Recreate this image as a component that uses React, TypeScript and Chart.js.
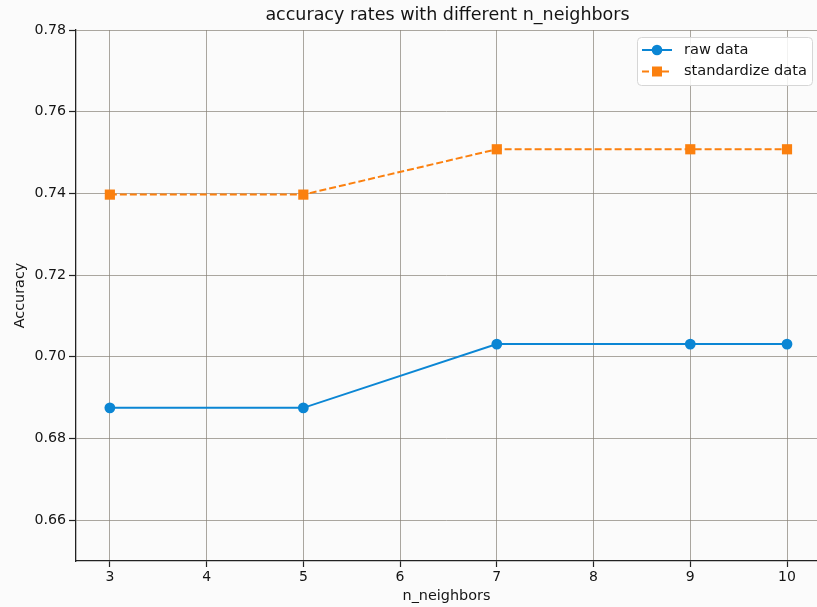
import React, { useEffect, useRef } from 'react';
import { Chart, registerables } from 'chart.js';

Chart.register(...registerables);

const nNeighbors = [3, 5, 7, 9, 10];
const rawData = [0.6875, 0.6875, 0.7031, 0.7031, 0.7031];
const standardizeData = [0.7397, 0.7397, 0.7508, 0.7508, 0.7508];
const xTickValues = [3, 4, 5, 6, 7, 8, 9, 10];
const yTickValues = [0.66, 0.68, 0.7, 0.72, 0.74, 0.76, 0.78];
const seriesLabels = ['raw data', 'standardize data'];
const titleText = 'accuracy rates with different n_neighbors';
const xLabel = 'n_neighbors';
const yLabel = 'Accuracy';

const BLUE = '#0b86d4';
const ORANGE = '#fb800f';
const FONT = "'DejaVu Sans', sans-serif";
const TEXT = '#141414';
const GRID = 'rgba(135,130,120,0.7)';

const decoPlugin = {
  id: 'deco',
  beforeDraw(chart: any) {
    const ctx = chart.ctx;
    ctx.save();
    ctx.fillStyle = '#fbfbfb';
    ctx.fillRect(0, 0, chart.width, chart.height);
    ctx.restore();
  },
  afterDraw(chart: any) {
    const ctx = chart.ctx;
    const ca = chart.chartArea;
    ctx.save();
    // title
    ctx.fillStyle = TEXT;
    ctx.font = `17.5px ${FONT}`;
    ctx.textAlign = 'center';
    ctx.textBaseline = 'middle';
    ctx.fillText(titleText, (ca.left + ca.right) / 2 + 1, 15);

    // legend
    const bx = 637.5, by = 37.5, bw = 175, bh = 48, r = 4;
    ctx.beginPath();
    ctx.moveTo(bx + r, by);
    ctx.lineTo(bx + bw - r, by);
    ctx.arcTo(bx + bw, by, bx + bw, by + r, r);
    ctx.lineTo(bx + bw, by + bh - r);
    ctx.arcTo(bx + bw, by + bh, bx + bw - r, by + bh, r);
    ctx.lineTo(bx + r, by + bh);
    ctx.arcTo(bx, by + bh, bx, by + bh - r, r);
    ctx.lineTo(bx, by + r);
    ctx.arcTo(bx, by, bx + r, by, r);
    ctx.closePath();
    ctx.fillStyle = 'rgba(255,255,255,0.85)';
    ctx.fill();
    ctx.strokeStyle = '#d6d6d6';
    ctx.lineWidth = 1;
    ctx.stroke();

    const rows = [50, 71.5];
    chart.data.datasets.forEach((ds: any, i: number) => {
      const y = rows[i];
      ctx.strokeStyle = ds.borderColor;
      ctx.lineWidth = 2;
      ctx.setLineDash(ds.borderDash || []);
      ctx.beginPath();
      ctx.moveTo(642, y);
      ctx.lineTo(672, y);
      ctx.stroke();
      ctx.setLineDash([]);
      ctx.fillStyle = ds.borderColor;
      if (ds.pointStyle === 'rect') {
        ctx.fillRect(657 - 5, y - 5, 10, 10);
      } else {
        ctx.beginPath();
        ctx.arc(657, y, 5.3, 0, Math.PI * 2);
        ctx.fill();
      }
      ctx.fillStyle = TEXT;
      ctx.font = `14.6px ${FONT}`;
      ctx.textAlign = 'left';
      ctx.textBaseline = 'middle';
      ctx.fillText(ds.label, 684, y);
    });
    ctx.restore();
  },
};

export default function App() {
  const ref = useRef<HTMLCanvasElement | null>(null);

  useEffect(() => {
    if (!ref.current) return;
    const chart = new Chart(ref.current, {
      type: 'line',
      data: {
        datasets: [
          {
            label: seriesLabels[0],
            data: nNeighbors.map((x, i) => ({ x, y: rawData[i] })),
            borderColor: BLUE,
            backgroundColor: BLUE,
            borderWidth: 2,
            pointStyle: 'circle',
            pointRadius: 5.4,
            pointBorderWidth: 0,
            pointBackgroundColor: BLUE,
            tension: 0,
            fill: false,
          },
          {
            label: seriesLabels[1],
            data: nNeighbors.map((x, i) => ({ x, y: standardizeData[i] })),
            borderColor: ORANGE,
            backgroundColor: ORANGE,
            borderWidth: 2,
            borderDash: [7, 3],
            pointStyle: 'rect',
            pointRadius: 7.2,
            pointBorderWidth: 0,
            pointBackgroundColor: ORANGE,
            tension: 0,
            fill: false,
          },
        ],
      },
      options: {
        animation: false,
        responsive: false,
        devicePixelRatio: 1,
        layout: { autoPadding: false, padding: { top: 30, left: 0, right: 0, bottom: 0 } },
        plugins: {
          legend: { display: false },
          title: { display: false },
          tooltip: { enabled: false },
        },
        scales: {
          x: {
            type: 'linear',
            min: 2.65,
            max: 10.31,
            afterBuildTicks: (scale: any) => {
              scale.ticks = xTickValues.map((v) => ({ value: v }));
            },
            afterFit: (scale: any) => {
              scale.height = 46;
              scale.paddingLeft = 0;
              scale.paddingRight = 0;
            },
            ticks: {
              color: TEXT,
              font: { family: FONT, size: 14 },
              padding: 2,
              maxRotation: 0,
              autoSkip: false,
            },
            grid: {
              color: GRID,
              lineWidth: 1,
              drawTicks: true,
              tickLength: 6,
              tickColor: '#222',
              tickWidth: 1.2,
            },
            border: { display: true, color: '#222', width: 1.3 },
            title: {
              display: true,
              text: xLabel,
              color: TEXT,
              font: { family: FONT, size: 14.4 },
              padding: { top: 0, bottom: 2 },
            },
          },
          y: {
            type: 'linear',
            min: 0.65,
            max: 0.78,
            afterBuildTicks: (scale: any) => {
              scale.ticks = yTickValues.map((v) => ({ value: v }));
            },
            afterFit: (scale: any) => {
              scale.width = 76;
              scale.paddingTop = 0;
              scale.paddingBottom = 0;
            },
            ticks: {
              color: TEXT,
              font: { family: FONT, size: 14.2 },
              padding: 3,
              callback: (v: any) => Number(v).toFixed(2),
            },
            grid: {
              color: GRID,
              lineWidth: 1,
              drawTicks: true,
              tickLength: 7,
              tickColor: '#222',
              tickWidth: 1.2,
            },
            border: { display: true, color: '#222', width: 1.3 },
            title: {
              display: true,
              text: yLabel,
              color: TEXT,
              font: { family: FONT, size: 14.4 },
              padding: { top: 12, bottom: 0 },
            },
          },
        },
      },
      plugins: [decoPlugin],
    } as any);
    return () => chart.destroy();
  }, []);

  return (
    <div style={{ position: 'absolute', left: 0, top: 0, width: 817, height: 607 }}>
      <canvas ref={ref} width={817} height={607} style={{ display: 'block' }} />
    </div>
  );
}
